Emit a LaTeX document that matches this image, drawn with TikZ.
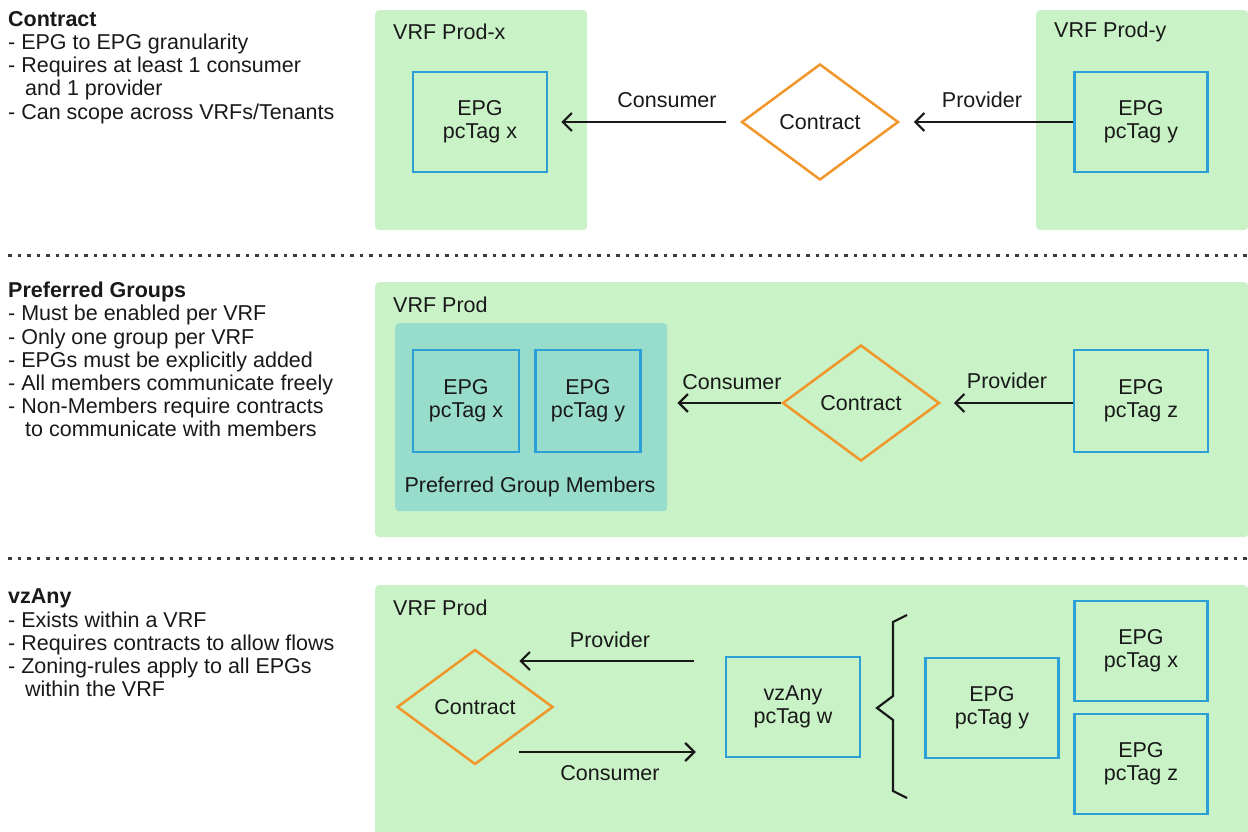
\documentclass[tikz,border=0pt]{standalone}
\usepackage{fontspec}
\setmainfont{Liberation Sans}
\usepackage{tikz}
\usetikzlibrary{arrows.meta,positioning,shapes.geometric}

\definecolor{vrfgreen}{RGB}{201,242,198}
\definecolor{pgteal}{RGB}{152,220,203}
\definecolor{epgblue}{RGB}{44,160,214}
\definecolor{ctorange}{RGB}{240,150,42}
\definecolor{inkgray}{RGB}{25,25,25}

\newcommand{\txt}{\fontsize{21.5}{23.2}\selectfont}

\begin{document}
\begin{tikzpicture}
[x=1pt, y=-1pt, >={Straight Barb[length=9pt,width=18pt]},
every node/.style={text=inkgray, font=\txt},
vrf/.style={fill=vrfgreen, rounded corners=4pt, anchor=north west, inner sep=0},
pgroup/.style={fill=pgteal, rounded corners=4pt, anchor=north west, inner sep=0},
epg/.style={draw=epgblue, line width=2.5pt, align=center, inner sep=0,
  minimum width=133pt, minimum height=100pt},
contract/.style={diamond, draw=ctorange, line width=2.5pt, inner sep=0,
  minimum width=157pt, minimum height=116pt},
flow/.style={->, line width=2.2pt, draw=inkgray},
tag/.style={inner sep=0},
desc/.style={anchor=north west, align=left, inner sep=0},
sep/.style={draw=inkgray!85, line width=3pt, dash pattern=on 3.5pt off 6pt}
]
  \useasboundingbox (0,0) rectangle (1248,832);

  % --- Contract ---
  \node[desc] (descA) at (8,11) {\textbf{Contract}\\- EPG to EPG granularity\\- Requires at least 1 consumer\\\hspace*{17pt}and 1 provider\\- Can scope across VRFs/Tenants};

  \node[vrf, minimum width=212pt, minimum height=220pt] (vrfx) at (375,10) {};
  \node[vrf, minimum width=212pt, minimum height=220pt] (vrfy) at (1036,10) {};
  \node[tag, anchor=west] (vrfxlbl) at (393,32) {VRF Prod-x};
  \node[tag, anchor=west] (vrfylbl) at (1054,32) {VRF Prod-y};

  \node[epg, minimum width=134pt] (epgx) at (480,122) {EPG\\pcTag x};
  \node[epg] (epgy) at (1141,122) {EPG\\pcTag y};
  \node[contract] (ct1) at (820,122) {Contract};

  \draw[flow, shorten <=14pt, shorten >=13pt] (ct1.west) -- (epgx.east);
  \draw[flow, shorten >=14pt] (epgy.west) -- (ct1.east);
  \node[tag] (cons1) at (667,100) {Consumer};
  \node[tag] (prov1) at (982,100) {Provider};

  \coordinate (sepA) at (8,255);
  \coordinate (sepB) at (1248,255);
  \draw[sep] (sepA) -- (sepB);

  % --- Preferred Groups ---
  \node[desc] (descB) at (8,282) {\textbf{Preferred Groups}\\- Must be enabled per VRF\\- Only one group per VRF\\- EPGs must be explicitly added\\- All members communicate freely\\- Non-Members require contracts\\\hspace*{17pt}to communicate with members};

  \node[vrf, minimum width=873pt, minimum height=255pt] (vrfp) at (375,282) {};
  \node[tag, anchor=west] (vrfplbl) at (393,305) {VRF Prod};
  \node[pgroup, minimum width=272pt, minimum height=188pt] (pg) at (395,323) {};
  \node[epg, minimum width=106pt, minimum height=102pt] (epgx2) at (466,401) {EPG\\pcTag x};
  \node[epg, minimum width=105pt, minimum height=102pt] (epgy2) at (588,401) {EPG\\pcTag y};
  \node[tag] (pglbl) at (530,487) {Preferred Group Members};
  \node[contract] (ct2) at (861,403) {Contract};
  \node[epg, minimum width=134pt, minimum height=102pt] (epgz2) at (1141,401) {EPG\\pcTag z};

  \draw[flow, shorten >=10pt] (ct2.west) -- (ct2.west -| pg.east);
  \draw[flow, shorten >=13pt] (ct2.east -| epgz2.west) -- (ct2.east);
  \node[tag] (cons2) at (732,382) {Consumer};
  \node[tag] (prov2) at (1007,381) {Provider};

  \coordinate (sepC) at (8,558);
  \coordinate (sepD) at (1248,558);
  \draw[sep] (sepC) -- (sepD);

  % --- vzAny ---
  \node[desc] (descC) at (8,589) {\textbf{vzAny}\\- Exists within a VRF\\- Requires contracts to allow flows\\- Zoning-rules apply to all EPGs\\\hspace*{17pt}within the VRF};

  \node[vrf, minimum width=873pt, minimum height=252pt] (vrfp3) at (375,585) {};
  \node[tag, anchor=west] (vrfp3lbl) at (393,608) {VRF Prod};
  \node[contract, minimum width=156pt, minimum height=115pt] (ct3) at (475,707) {Contract};
  \node[epg, minimum width=134pt] (vzany) at (793,707) {vzAny\\pcTag w};
  \node[epg] (epgy3) at (992,708) {EPG\\pcTag y};
  \node[epg] (epgx3) at (1141,651) {EPG\\pcTag x};
  \node[epg] (epgz3) at (1141,764) {EPG\\pcTag z};

  % explicit pt shifts run in page direction (up is positive)
  \draw[flow] ([shift={(-31pt,46pt)}]vzany.west) -- ([shift={(-35pt,46pt)}]ct3.east);
  \draw[flow] ([shift={(-35pt,-45pt)}]ct3.east) -- ([shift={(-29pt,-45pt)}]vzany.west);
  \node[tag] (prov3) at (610,640) {Provider};
  \node[tag] (cons3) at (610,773) {Consumer};

  % brace grouping the EPGs
  \draw[inkgray, line width=2.2pt, line join=miter]
    (907,615) -- (893,622) -- (893,696) -- (877,708) -- (893,720) -- (893,791) -- (907,798);
\end{tikzpicture}
\end{document}
